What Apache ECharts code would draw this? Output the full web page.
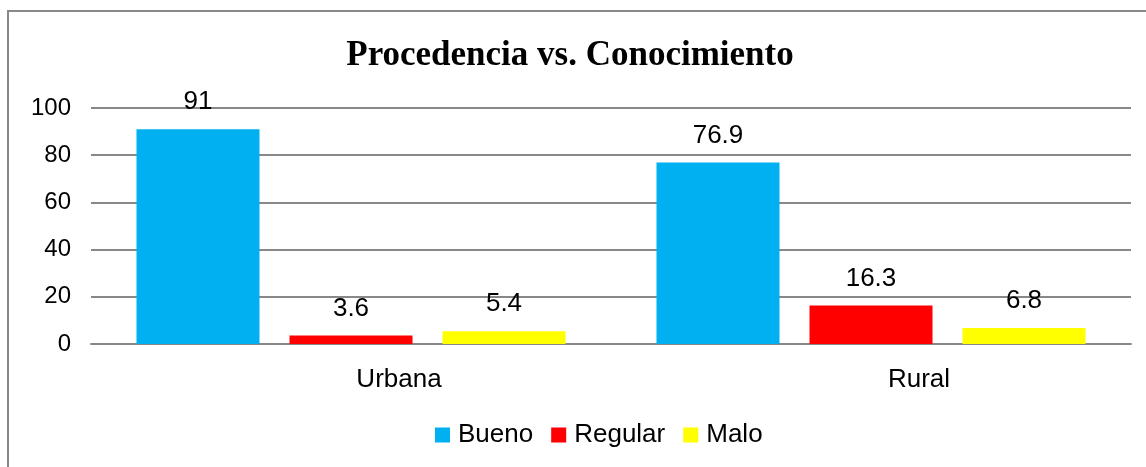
<!DOCTYPE html>
<html>
<head>
<meta charset="utf-8">
<script src="https://cdn.jsdelivr.net/npm/echarts@6/dist/echarts.min.js"></script>
<style>
  html, body { margin: 0; padding: 0; background: #fff; }
  #chart { width: 1146px; height: 467px; }
</style>
</head>
<body>
<div id="chart"></div>
<script>
// datos del grafico
const categorias = ['Urbana', 'Rural'];
const bueno = [91, 76.9];
const regular = [3.6, 16.3];
const malo = [5.4, 6.8];
const ticksY = [0, 20, 40, 60, 80, 100];

const fuente = 'Arial, "Liberation Sans", sans-serif';

function serie(nombre, datos, color) {
  return {
    name: nombre,
    type: 'bar',
    data: datos,
    barWidth: 123,
    barGap: '24.4%',
    itemStyle: { color: color },
    label: {
      show: true,
      position: 'top',
      distance: 14,
      color: '#000',
      fontSize: 26,
      fontFamily: fuente
    }
  };
}

const mychart = echarts.init(document.getElementById('chart'));
mychart.setOption({
  backgroundColor: '#fff',
  animation: false,
  title: {
    text: 'Procedencia vs. Conocimiento',
    left: 565,
    top: 33,
    textAlign: 'center',
    textStyle: {
      fontFamily: '"Liberation Serif", "Times New Roman", serif',
      fontWeight: 'bold',
      fontSize: 35,
      color: '#000'
    }
  },
  legend: {
    bottom: 14,
    left: 430,
    itemWidth: 15,
    itemHeight: 15,
    itemGap: 18,
    icon: 'rect',
    textStyle: { fontSize: 26, color: '#000', fontFamily: fuente, padding: [0, 0, 0, 3] },
    data: ['Bueno', 'Regular', 'Malo']
  },
  grid: { left: 91, right: 15, top: 108, bottom: 123 },
  xAxis: {
    type: 'category',
    data: categorias,
    axisLine: { lineStyle: { color: '#888', width: 2 } },
    axisTick: { show: false },
    axisLabel: {
      color: '#000',
      fontSize: 26,
      fontFamily: fuente,
      margin: 23,
      padding: [0, 0, 0, 96]
    }
  },
  yAxis: {
    type: 'value',
    min: ticksY[0],
    max: ticksY[ticksY.length - 1],
    interval: 20,
    axisLine: { show: false },
    axisTick: { show: false },
    splitLine: { lineStyle: { color: '#888', width: 2 } },
    axisLabel: { color: '#000', fontSize: 24, fontFamily: fuente, margin: 20 }
  },
  graphic: [{
    type: 'polyline',
    shape: { points: [[8, 467], [8, 11], [1146, 11]] },
    style: { stroke: '#888', lineWidth: 2, fill: null }
  }],
  series: [
    serie('Bueno', bueno, '#00B0F0'),
    serie('Regular', regular, '#FF0000'),
    serie('Malo', malo, '#FFFF00')
  ]
});
</script>
</body>
</html>
